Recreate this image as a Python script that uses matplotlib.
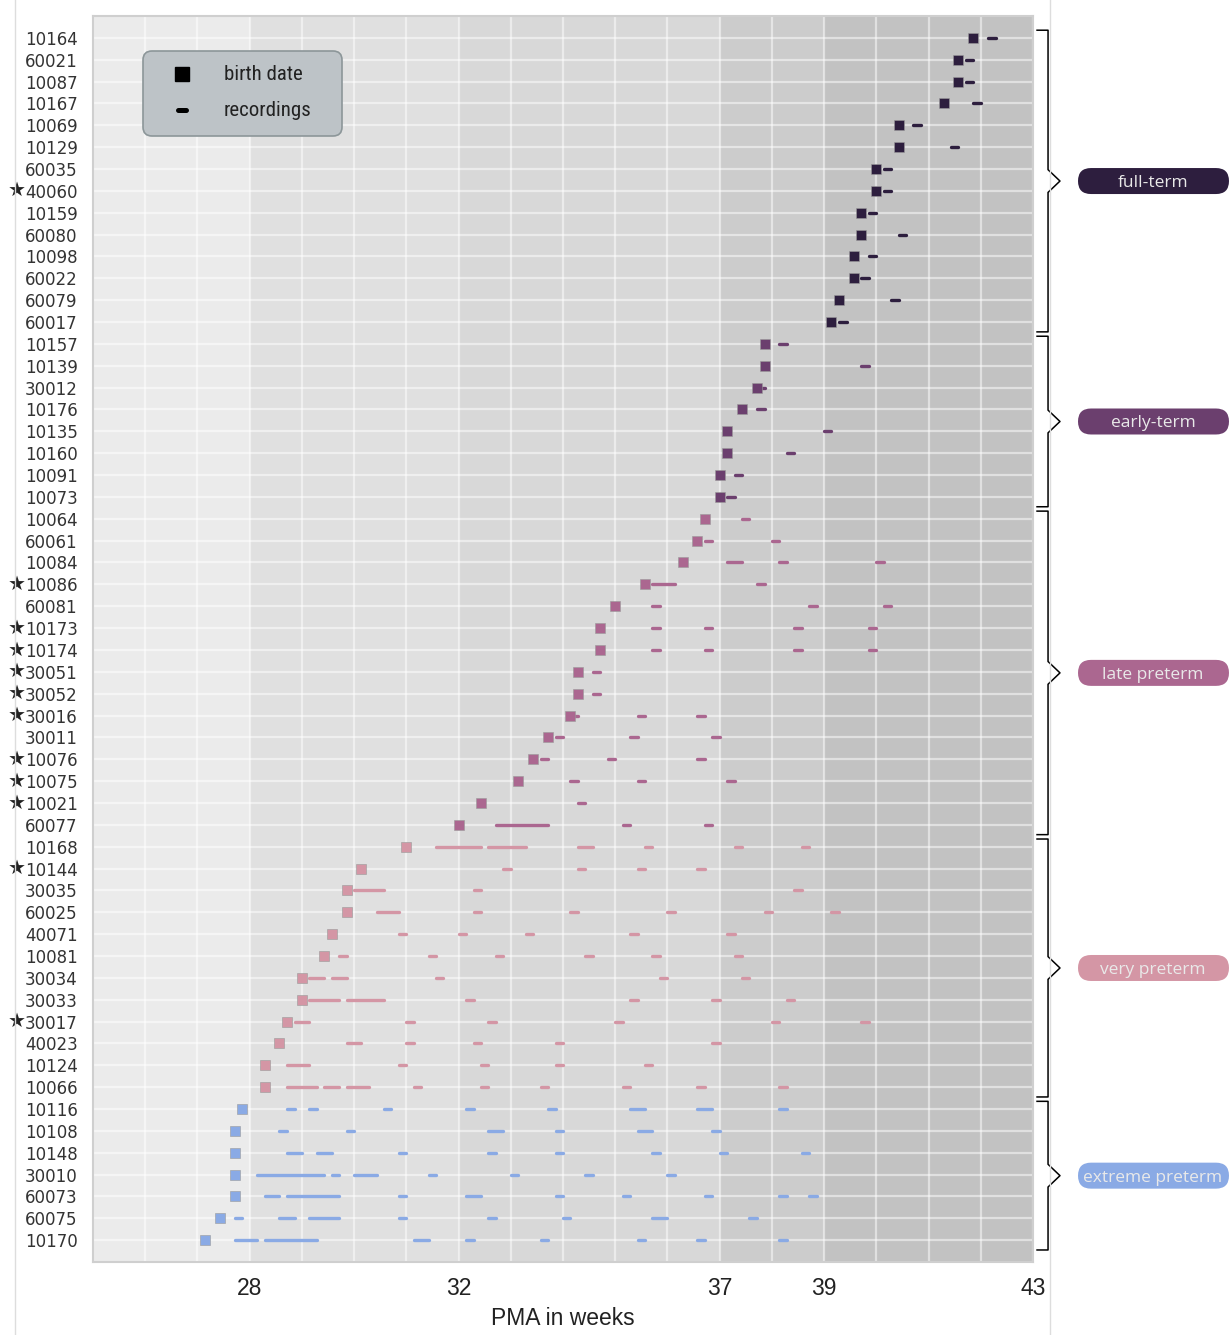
import matplotlib
matplotlib.use("Agg")
import matplotlib.pyplot as plt
import matplotlib.transforms as mtransforms
from matplotlib.patches import FancyBboxPatch
from matplotlib.lines import Line2D
from matplotlib import font_manager

# ---------------------------------------------------------------- data
subject_ids = ["10164", "60021", "10087", "10167", "10069", "10129", "60035", "40060",
               "10159", "60080", "10098", "60022", "60079", "60017",
               "10157", "10139", "30012", "10176", "10135", "10160", "10091", "10073",
               "10064", "60061", "10084", "10086", "60081", "10173", "10174", "30051",
               "30052", "30016", "30011", "10076", "10075", "10021", "60077",
               "10168", "10144", "30035", "60025", "40071", "10081", "30034", "30033",
               "30017", "40023", "10124", "10066",
               "10116", "10108", "10148", "30010", "60073", "60075", "10170"]

starred = {"40060", "10086", "10173", "10174", "30051", "30052", "30016",
           "10076", "10075", "10021", "10144", "30017"}

# PMA at birth (weeks)
birth_pma = [41.86, 41.57, 41.57, 41.29, 40.43, 40.43, 40.00, 40.00,
             39.71, 39.71, 39.57, 39.57, 39.29, 39.14,
             37.86, 37.86, 37.71, 37.43, 37.14, 37.14, 37.00, 37.00,
             36.71, 36.57, 36.29, 35.57, 35.00, 34.71, 34.71, 34.29,
             34.29, 34.14, 33.71, 33.43, 33.14, 32.43, 32.00,
             31.00, 30.14, 29.86, 29.86, 29.57, 29.43, 29.00, 29.00,
             28.71, 28.57, 28.29, 28.29,
             27.86, 27.71, 27.71, 27.71, 27.71, 27.43, 27.14]

# recording periods per subject: (start, end) PMA in weeks
recordings = [
    [(42.14, 42.29)],
    [(41.71, 41.86)],
    [(41.71, 41.86)],
    [(41.86, 42.00)],
    [(40.71, 40.86)],
    [(41.43, 41.57)],
    [(40.14, 40.29)],
    [(40.14, 40.29)],
    [(39.86, 40.00)],
    [(40.43, 40.57)],
    [(39.86, 40.00)],
    [(39.71, 39.86)],
    [(40.29, 40.43)],
    [(39.29, 39.43)],
    [(38.14, 38.29)],
    [(39.71, 39.86)],
    [(37.71, 37.86)],
    [(37.71, 37.86)],
    [(39.00, 39.14)],
    [(38.29, 38.43)],
    [(37.29, 37.43)],
    [(37.14, 37.29)],
    [(37.43, 37.57)],
    [(36.71, 36.86), (38.00, 38.14)],
    [(37.14, 37.43), (38.14, 38.29), (40.00, 40.14)],
    [(35.71, 36.14), (37.71, 37.86)],
    [(35.71, 35.86), (38.71, 38.86), (40.14, 40.29)],
    [(35.71, 35.86), (36.71, 36.86), (38.43, 38.57), (39.86, 40.00)],
    [(35.71, 35.86), (36.71, 36.86), (38.43, 38.57), (39.86, 40.00)],
    [(34.57, 34.71)],
    [(34.57, 34.71)],
    [(34.14, 34.29), (35.43, 35.57), (36.57, 36.71)],
    [(33.86, 34.00), (35.29, 35.43), (36.86, 37.00)],
    [(33.57, 33.71), (34.86, 35.00), (36.57, 36.71)],
    [(34.14, 34.29), (35.43, 35.57), (37.14, 37.29)],
    [(34.29, 34.43)],
    [(32.71, 33.71), (35.14, 35.29), (36.71, 36.86)],
    [(31.57, 32.43), (32.57, 33.29), (34.29, 34.57), (35.57, 35.71), (37.29, 37.43), (38.57, 38.71)],
    [(32.86, 33.00), (34.29, 34.43), (35.43, 35.57), (36.57, 36.71)],
    [(30.00, 30.57), (32.29, 32.43), (38.43, 38.57)],
    [(30.43, 30.86), (32.29, 32.43), (34.14, 34.29), (36.00, 36.14), (37.86, 38.00), (39.14, 39.29)],
    [(30.86, 31.00), (32.00, 32.14), (33.29, 33.43), (35.29, 35.43), (37.14, 37.29)],
    [(29.71, 29.86), (31.43, 31.57), (32.71, 32.86), (34.43, 34.57), (35.71, 35.86), (37.29, 37.43)],
    [(29.14, 29.43), (29.57, 29.86), (31.57, 31.71), (35.86, 36.00), (37.43, 37.57)],
    [(29.14, 29.71), (29.86, 30.57), (32.14, 32.29), (35.29, 35.43), (36.86, 37.00), (38.29, 38.43)],
    [(28.86, 29.14), (31.00, 31.14), (32.57, 32.71), (35.00, 35.14), (38.00, 38.14), (39.71, 39.86)],
    [(29.86, 30.14), (31.00, 31.14), (32.29, 32.43), (33.86, 34.00), (36.86, 37.00)],
    [(28.71, 29.14), (30.86, 31.00), (32.43, 32.57), (33.86, 34.00), (35.57, 35.71)],
    [(28.71, 29.29), (29.43, 29.71), (29.86, 30.29), (31.14, 31.29), (32.43, 32.57),
     (33.57, 33.71), (35.14, 35.29), (36.57, 36.71), (38.14, 38.29)],
    [(28.71, 28.86), (29.14, 29.29), (30.57, 30.71), (32.14, 32.29), (33.71, 33.86),
     (35.29, 35.57), (36.57, 36.86), (38.14, 38.29)],
    [(28.57, 28.71), (29.86, 30.00), (32.57, 32.86), (33.86, 34.00), (35.43, 35.71), (36.86, 37.00)],
    [(28.71, 29.00), (29.29, 29.57), (30.86, 31.00), (32.57, 32.71), (33.86, 34.00),
     (35.71, 35.86), (37.00, 37.14), (38.57, 38.71)],
    [(28.14, 29.43), (29.57, 29.71), (30.00, 30.43), (31.43, 31.57), (33.00, 33.14),
     (34.43, 34.57), (36.00, 36.14)],
    [(28.29, 28.57), (28.71, 29.71), (30.86, 31.00), (32.14, 32.43), (33.86, 34.00),
     (35.14, 35.29), (36.71, 36.86), (38.14, 38.29), (38.71, 38.86)],
    [(27.71, 27.86), (28.57, 28.86), (29.14, 29.71), (30.86, 31.00), (32.57, 32.71),
     (34.00, 34.14), (35.71, 36.00), (37.57, 37.71)],
    [(27.71, 28.14), (28.29, 29.29), (31.14, 31.43), (32.14, 32.29), (33.57, 33.71),
     (35.43, 35.57), (36.57, 36.71), (38.14, 38.29)],
]

group_names = ["full-term", "early-term", "late preterm", "very preterm", "extreme preterm"]
group_sizes = [14, 8, 15, 12, 7]
group_colors = ["#2d1e3e", "#6b3f6e", "#ab6790", "#d496a5", "#8aaae5"]

band_edges = [25, 28, 32, 37, 39, 43]
band_shades = ["#ebebeb", "#e0e0e0", "#d8d8d8", "#cccccc", "#c2c2c2"]
week_ticks = [28, 32, 37, 39, 43]

# ---------------------------------------------------------------- fonts
available = {f.name for f in font_manager.fontManager.ttflist}
narrow = next((f for f in ["Roboto Condensed", "Liberation Sans Narrow", "Open Sans Condensed"]
               if f in available), None)
legend_font = dict(family=narrow, size=15) if narrow else dict(family="Roboto", size=13, weight="light")

# ---------------------------------------------------------------- figure
W, H = 1232, 1335
fig = plt.figure(figsize=(W / 100, H / 100), dpi=100, facecolor="white")
ax = fig.add_axes([93 / W, 1 - 1262 / H, 940 / W, 1246 / H])

n = len(subject_ids)
ax.set_xlim(band_edges[0], band_edges[-1])
ax.set_ylim(n, -1)

for lo, hi, shade in zip(band_edges[:-1], band_edges[1:], band_shades):
    ax.axvspan(lo, hi, color=shade, lw=0, zorder=0)

ax.set_xticks(week_ticks)
ax.set_xticks(range(band_edges[0], band_edges[-1] + 1), minor=True)
ax.set_yticks(range(n))
ax.set_yticklabels(subject_ids, family="DejaVu Sans", fontsize=12, color="#333333")
ax.set_xticklabels([str(t) for t in week_ticks], family="Liberation Sans",
                   fontsize=16.5, color="#222222")
ax.tick_params(axis="both", which="both", length=0)
ax.tick_params(axis="x", pad=11)
ax.tick_params(axis="y", pad=11)
ax.grid(True, which="both", axis="x", color="white", alpha=0.5, lw=1.6, zorder=0.5)
ax.grid(True, which="major", axis="y", color="white", alpha=0.5, lw=1.6, zorder=0.5)
ax.set_axisbelow(True)
for sp in ax.spines.values():
    sp.set_color("#cfcfcf")
    sp.set_linewidth(1.5)
ax.set_xlabel("PMA in weeks", family="Liberation Sans", fontsize=16.5,
              color="#222222", labelpad=5)

# star markers in front of the flagged subject labels
label_tr = mtransforms.blended_transform_factory(ax.transAxes, ax.transData)
for i, s in enumerate(subject_ids):
    if s in starred:
        ax.text(-0.0809, i, "\u2605", transform=label_tr, ha="center", va="center",
                family="DejaVu Sans", fontsize=14.5, color="#222222", clip_on=False)

# colour of each row from its group
row_colors = []
for size, col in zip(group_sizes, group_colors):
    row_colors += [col] * size

for i, (b, recs, col) in enumerate(zip(birth_pma, recordings, row_colors)):
    for s, e in recs:
        ax.plot([s, e], [i, i], color=col, lw=2.4, solid_capstyle="round", zorder=3)
    ax.plot(b, i, marker="s", ms=6.8, color=col, mec="#9a9a9a", mew=0.4,
            ls="none", zorder=4)

# ---------------------------------------------------------------- legend box
ident = mtransforms.IdentityTransform()
fig.add_artist(FancyBboxPatch((143, H - 136), 199, 85,
                              boxstyle="round,pad=0,rounding_size=9",
                              fc="#bdc3c7", ec="#8c9699", lw=1.2,
                              transform=ident, zorder=5))
fig.add_artist(Line2D([182], [H - 74], marker="s", ms=10,
                      color="black", ls="none", transform=ident, zorder=6))
fig.add_artist(Line2D([178, 186], [H - 110, H - 110], lw=3.6, color="black",
                      solid_capstyle="round", transform=ident, zorder=6))
fig.text(224, H - 74, "birth date", transform=ident, va="center", ha="left",
         color="#222222", zorder=6, **legend_font)
fig.text(224, H - 110, "recordings", transform=ident, va="center", ha="left",
         color="#222222", zorder=6, **legend_font)

# ---------------------------------------------------------------- group braces
x0, x1, x2 = 1.0043, 1.0160, 1.0287
start = 0
for name, size, col in zip(group_names, group_sizes, group_colors):
    top = start - 0.35
    bot = start + size - 1 + 0.45
    mid = (top + bot) / 2
    ax.plot([x0, x1, x1, x2, x1, x1, x0],
            [top, top, mid - 0.52, mid, mid + 0.52, bot, bot],
            color="black", lw=1.1, transform=label_tr, clip_on=False, zorder=5)
    yc = ax.transData.transform((30, mid))[1]
    fig.add_artist(FancyBboxPatch((1078, yc - 13), 151, 26,
                                  boxstyle="round,pad=0,rounding_size=13",
                                  fc=col, ec="none", transform=ident, zorder=5))
    fig.text(1153, yc - 2, name, transform=ident, ha="center", va="center",
             family="Open Sans", fontsize=12.5, color="#e9e9e9", zorder=6)
    start += size

# thin frame lines at the page margins
for xp in (15, 1050):
    fig.add_artist(Line2D([xp, xp], [0, H], color="#dddddd", lw=1, transform=ident))

fig.savefig("out.png", dpi=100, facecolor="white")
